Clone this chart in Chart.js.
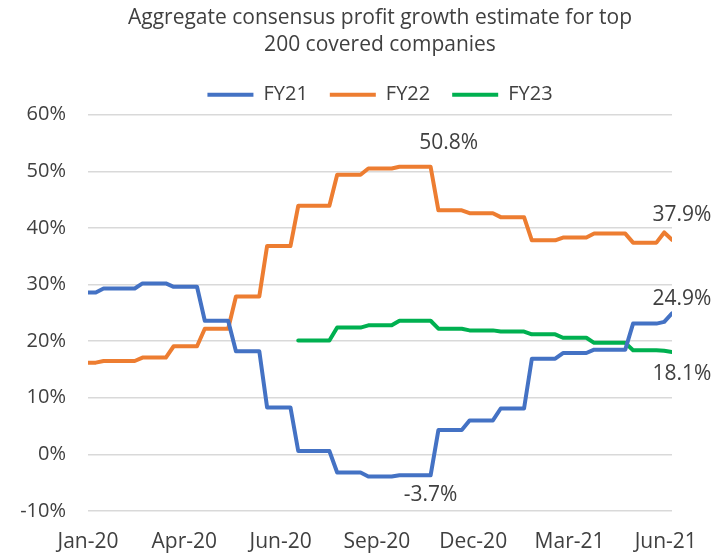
<!DOCTYPE html>
<html>
<head>
<meta charset="utf-8">
<script src="https://cdn.jsdelivr.net/npm/chart.js@4.4.1/dist/chart.umd.min.js"></script>
<style>
  body { margin: 0; background: #fff; }
  #wrap { width: 716px; height: 556px; }
</style>
</head>
<body>
<div id="wrap"><canvas id="myChart" width="716" height="556"></canvas></div>
<script>
/*----- data (weekly readings, % growth) -----*/
var fy21 = [28.6, 28.6,
    29.3, 29.3, 29.3, 29.3, 29.3,
    30.2, 30.2, 30.2, 30.2,
    29.6, 29.6, 29.6, 29.6,
    23.6, 23.6, 23.6, 23.6,
    18.2, 18.2, 18.2, 18.2,
    8.3, 8.3, 8.3, 8.3,
    0.6, 0.6, 0.6, 0.6, 0.6,
    -3.2, -3.2, -3.2, -3.2,
    -3.9, -3.9, -3.9, -3.9,
    -3.7, -3.7, -3.7, -3.7, -3.7,
    4.3, 4.3, 4.3, 4.3,
    6.0, 6.0, 6.0, 6.0,
    8.1, 8.1, 8.1, 8.1,
    16.9, 16.9, 16.9, 16.9,
    17.9, 17.9, 17.9, 17.9,
    18.5, 18.5, 18.5, 18.5, 18.5,
    23.1, 23.1, 23.1, 23.1,
    23.4, 24.9];

var fy22 = [16.2, 16.2,
    16.5, 16.5, 16.5, 16.5, 16.5,
    17.1, 17.1, 17.1, 17.1,
    19.1, 19.1, 19.1, 19.1,
    22.2, 22.2, 22.2, 22.2,
    27.9, 27.9, 27.9, 27.9,
    36.8, 36.8, 36.8, 36.8,
    43.9, 43.9, 43.9, 43.9, 43.9,
    49.4, 49.4, 49.4, 49.4,
    50.5, 50.5, 50.5, 50.5,
    50.8, 50.8, 50.8, 50.8, 50.8,
    43.1, 43.1, 43.1, 43.1,
    42.6, 42.6, 42.6, 42.6,
    41.9, 41.9, 41.9, 41.9,
    37.8, 37.8, 37.8, 37.8,
    38.3, 38.3, 38.3, 38.3,
    39.0, 39.0, 39.0, 39.0, 39.0,
    37.4, 37.4, 37.4, 37.4,
    39.2, 37.9];

var fy23 = [null, null, null, null, null, null, null, null, null, null,
    null, null, null, null, null, null, null, null, null, null,
    null, null, null, null, null, null, null,
    20.1, 20.1, 20.1, 20.1, 20.1,
    22.4, 22.4, 22.4, 22.4,
    22.8, 22.8, 22.8, 22.8,
    23.6, 23.6, 23.6, 23.6, 23.6,
    22.2, 22.2, 22.2, 22.2,
    21.9, 21.9, 21.9, 21.9,
    21.7, 21.7, 21.7, 21.7,
    21.2, 21.2, 21.2, 21.2,
    20.6, 20.6, 20.6, 20.6,
    19.7, 19.7, 19.7, 19.7, 19.7,
    18.4, 18.4, 18.4, 18.4,
    18.3, 18.1];

var seriesNames = ['FY21', 'FY22', 'FY23'];
var tickLabels = ['Jan-20', 'Apr-20', 'Jun-20', 'Sep-20', 'Dec-20', 'Mar-21', 'Jun-21'];
var tickWeeks = [0, 12.37, 24.74, 37.1, 49.47, 61.84, 74.2];
var yTicks = [-10, 0, 10, 20, 30, 40, 50, 60];

// week number of each reading
var weeks = fy21.map(function(v, i) { return i; });

/*----- labelled points -----*/
var callouts = [
    { ds: 1, i: 44, dx: 18, dy: -24 },
    { ds: 0, i: 44, dx: 0, dy: 20 },
    { ds: 1, i: 75, dx: 10, dy: -25 },
    { ds: 0, i: 75, dx: 10, dy: -14 },
    { ds: 2, i: 75, dx: 10, dy: 22 }
];

var FONT = "'Open Sans', sans-serif";
var TXT = '#404040';

var calloutPlugin = {
    id: 'callouts',
    afterDatasetsDraw: function(chart) {
        var ctx = chart.ctx;
        ctx.save();
        ctx.font = '21px ' + FONT;
        ctx.fillStyle = TXT;
        ctx.textAlign = 'center';
        ctx.textBaseline = 'middle';
        for (var k = 0; k < callouts.length; k++) {
            var c = callouts[k];
            var val = chart.data.datasets[c.ds].data[c.i];
            var x = chart.scales.x.getPixelForValue(weeks[c.i]);
            var y = chart.scales.y.getPixelForValue(val);
            ctx.fillText(val.toFixed(1) + '%', x + c.dx, y + c.dy);
        }
        ctx.restore();
    }
};

var colors = ['#4472C4', '#ED7D31', '#00B050'];
var allData = [fy21, fy22, fy23];
var datasets = [];
for (var s = 0; s < 3; s++) {
    datasets.push({
        label: seriesNames[s],
        data: allData[s],
        borderColor: colors[s],
        backgroundColor: colors[s],
        borderWidth: 4,
        pointRadius: 0,
        tension: 0,
        borderJoinStyle: 'round',
        borderCapStyle: 'round'
    });
}

var ctx = document.getElementById('myChart').getContext('2d');
var myChart = new Chart(ctx, {
    type: 'line',
    data: { labels: weeks, datasets: datasets },
    plugins: [calloutPlugin],
    options: {
        responsive: false,
        animation: false,
        devicePixelRatio: 1,
        layout: { padding: { left: 0, right: 44, top: 0, bottom: 0 } },
        plugins: {
            title: {
                display: true,
                fullSize: false,
                text: ['Aggregate consensus profit growth estimate for top', '200 covered companies'],
                color: TXT,
                font: { family: FONT, size: 21, weight: 'normal', lineHeight: 1.29 },
                padding: { top: 4.5, bottom: 4 }
            },
            legend: {
                display: true,
                fullSize: false,
                position: 'top',
                labels: {
                    boxWidth: 46,
                    boxHeight: 4,
                    padding: 22,
                    color: TXT,
                    font: { family: FONT, size: 20, weight: 'normal' },
                    generateLabels: function(chart) {
                        var items = Chart.defaults.plugins.legend.labels.generateLabels(chart);
                        items.forEach(function(it) {
                            it.lineWidth = 0;
                            it.fillStyle = it.strokeStyle;
                        });
                        return items;
                    }
                }
            },
            tooltip: { enabled: false }
        },
        scales: {
            x: {
                type: 'linear',
                min: 0,
                max: weeks[weeks.length - 1],
                grid: { display: false },
                border: { display: false },
                afterBuildTicks: function(axis) {
                    axis.ticks = tickWeeks.map(function(v) { return { value: v }; });
                },
                afterFit: function(axis) { axis.height = 45; },
                ticks: {
                    autoSkip: false,
                    maxRotation: 0,
                    padding: 10,
                    color: TXT,
                    font: { family: FONT, size: 21, weight: 'normal' },
                    callback: function(value, index) { return tickLabels[index]; }
                }
            },
            y: {
                min: -10,
                max: 60,
                grid: { color: '#D9D9D9', lineWidth: 1.5, drawTicks: false },
                border: { display: false },
                afterBuildTicks: function(axis) {
                    axis.ticks = yTicks.map(function(v) { return { value: v }; });
                },
                afterFit: function(axis) { axis.width = 88; },
                ticks: {
                    padding: 22,
                    color: TXT,
                    font: { family: FONT, size: 20, weight: 'normal' },
                    callback: function(value) { return value + '%'; }
                }
            }
        }
    }
});
</script>
</body>
</html>
